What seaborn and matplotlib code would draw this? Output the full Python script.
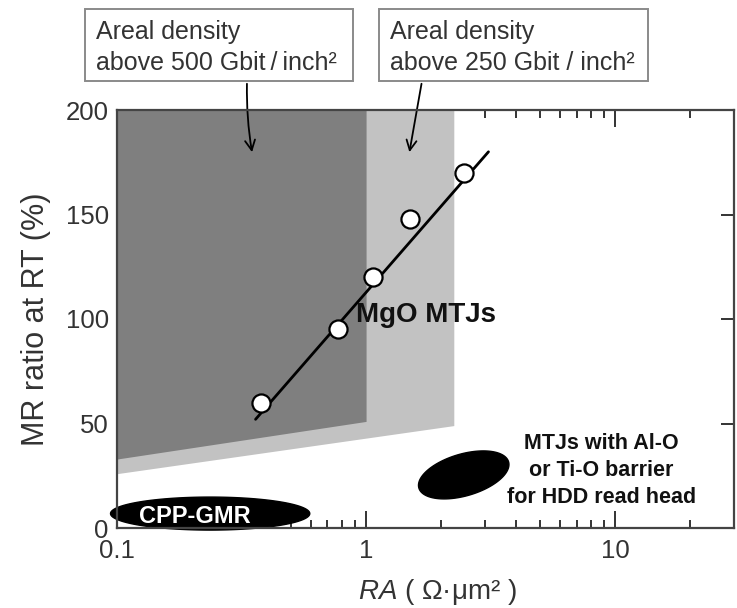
import numpy as np
import pandas as pd
import matplotlib
matplotlib.use("Agg")
import matplotlib.pyplot as plt
from matplotlib.patches import Rectangle
import seaborn as sns

# ---------------- data ----------------
# MgO MTJ measurements (RA in Ohm*um^2, MR ratio in %)
mgo_ra = [0.38, 0.77, 1.07, 1.50, 2.48]
mgo_mr = [60, 95, 120, 148, 170]
# trend line through MgO data
fit_ra = [0.36, 3.1]
fit_mr = [52, 180]

# areal-density regions: x-extent and sloped lower boundary
dens500_ra = [0.1, 1.0]
dens500_low = [33, 51]
dens250_ra = [0.1, 2.25]
dens250_low = [26, 49]
region_top = 200

# ellipse regions (log10 RA center, half-axes)
cpp_center = (-0.626, 6.9)          # (log10 RA, MR)
cpp_half = (0.40, 7.9)              # (decades, %)
alo_center = (0.392, 25.4)
alo_major = (0.18, 6.3)
alo_minor = (-0.024, 9.6)

yticks = [0, 50, 100, 150, 200]
xticks = [0.1, 1, 10]
xticklabels = ["0.1", "1", "10"]

# ---------------- style ----------------
sns.set_theme(style="ticks")
plt.rcParams["font.family"] = ["Liberation Sans", "DejaVu Sans"]
plt.rcParams["mathtext.fontset"] = "custom"
plt.rcParams["mathtext.it"] = "Liberation Sans:italic"
plt.rcParams["mathtext.rm"] = "Liberation Sans"

fig = plt.figure(figsize=(7.37, 6.08), dpi=100)
W, H = 737, 608
ax = fig.add_axes([117 / W, 1 - 528 / H, (734 - 117) / W, (528 - 110) / H])
ax.set_xscale("log")
ax.set_xlim(0.1, 30)
ax.set_ylim(0, 200)

# shaded regions
ax.fill_between(dens250_ra, dens250_low, [region_top] * 2, color="#c2c2c2", lw=0, zorder=1)
ax.fill_between(dens500_ra, dens500_low, [region_top] * 2, color="#7f7f7f", lw=0, zorder=2)

# ellipses
t = np.linspace(0, 2 * np.pi, 200)
cx = 10 ** (cpp_center[0] + cpp_half[0] * np.cos(t))
cy = cpp_center[1] + cpp_half[1] * np.sin(t)
ax.fill(cx, cy, color="black", zorder=4, clip_on=False)
ax.text(0.205, 5.3, "CPP-GMR", color="white", fontsize=17,
        fontweight="bold", ha="center", va="center", zorder=5)

ax_ = 10 ** (alo_center[0] + alo_major[0] * np.cos(t) + alo_minor[0] * np.sin(t))
ay_ = alo_center[1] + alo_major[1] * np.cos(t) + alo_minor[1] * np.sin(t)
ax.fill(ax_, ay_, color="black", zorder=4)

# MgO line and points
sns.lineplot(x=fit_ra, y=fit_mr, ax=ax, color="black", lw=2, zorder=5)
df = pd.DataFrame({"RA": mgo_ra, "MR": mgo_mr})
sns.scatterplot(data=df, x="RA", y="MR", ax=ax, s=170, color="white",
                edgecolor="black", linewidth=1.6, zorder=6)

ax.text(0.91, 102, "MgO MTJs", fontsize=20, fontweight="bold", ha="left",
        va="center", color="#111111", zorder=7)
ax.text(8.8, 27.5, "MTJs with Al-O\nor Ti-O barrier\nfor HDD read head",
        fontsize=15.5, fontweight="bold", ha="center", va="center",
        linespacing=1.38, color="#111111", zorder=7)

# ticks
ax.set_yticks(yticks)
ax.set_xticks(xticks)
ax.set_xticklabels(xticklabels)
ax.tick_params(axis="both", which="both", direction="in", top=True, right=True,
               colors="#333333", labelsize=18.5, width=1.4)
ax.tick_params(axis="y", which="major", length=9.5, pad=6)
ax.tick_params(axis="x", which="major", length=12, pad=8)
ax.tick_params(axis="x", which="minor", length=5.5)
for s in ax.spines.values():
    s.set_color("#444444")
    s.set_linewidth(1.6)
    s.set_zorder(8)

ax.set_xlabel(r"$\mathit{RA}$ ( Ω·μm² )", fontsize=20, color="#333333")
ax.xaxis.set_label_coords((437 - 117) / 617, (528 - 592) / 418)
ax.xaxis.label.set_va("center")
ax.set_ylabel("MR ratio at RT (%)", fontsize=22, color="#333333")
ax.yaxis.set_label_coords((36 - 117) / 617, 0.5)
ax.yaxis.label.set_va("center")

# annotation boxes
def box(x0, x1, lines):
    rect = Rectangle((x0 / W, 1 - 81 / H), (x1 - x0) / W, 72 / H,
                     transform=fig.transFigure, fill=False,
                     edgecolor="#8a8a8a", lw=1.4)
    fig.patches.append(rect)
    fig.text((x0 + 11) / W, 1 - 32 / H, lines[0], fontsize=18,
             color="#333333", ha="left", va="center")
    fig.text((x0 + 11) / W, 1 - 63 / H, lines[1], fontsize=18,
             color="#333333", ha="left", va="center")

box(85, 353, ["Areal density", "above 500 Gbit\u2009/\u2009inch²"])
box(379, 648, ["Areal density", "above 250 Gbit / inch²"])

arrow = dict(arrowstyle="->", color="black", lw=1.3, mutation_scale=18)
ax.annotate("", xy=(0.35, 178.5), xycoords="data",
            xytext=(247 / W, 1 - 81 / H), textcoords="figure fraction",
            arrowprops=dict(arrow, connectionstyle="arc3,rad=0.05"))
ax.annotate("", xy=(1.486, 178.5), xycoords="data",
            xytext=(422 / W, 1 - 81 / H), textcoords="figure fraction",
            arrowprops=arrow)

fig.savefig("out.png", dpi=100)
